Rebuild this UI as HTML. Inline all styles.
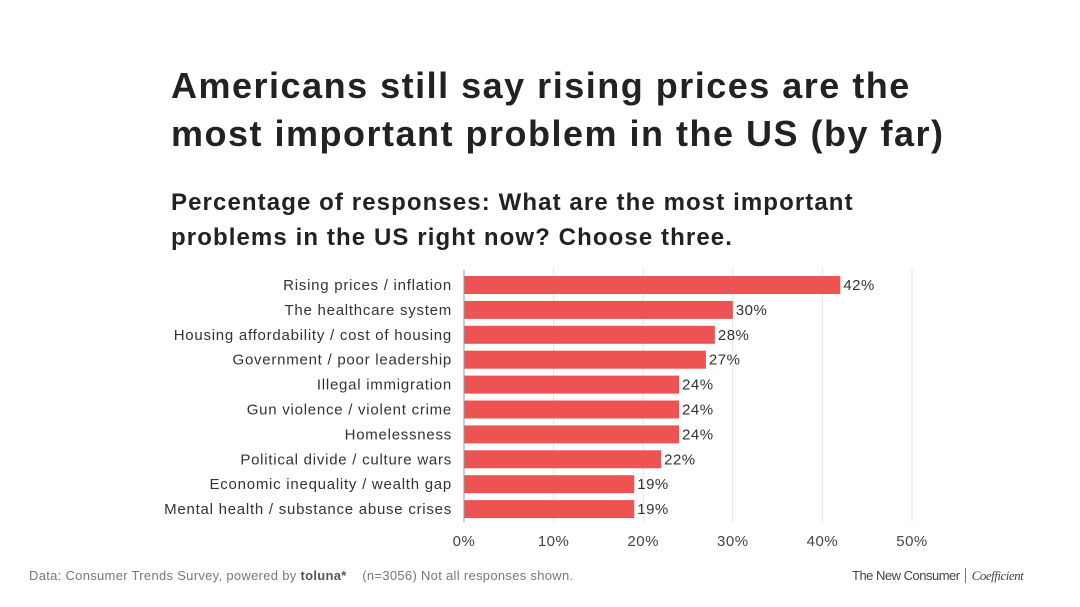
<!DOCTYPE html>
<html><head><meta charset="utf-8"><style>
body{margin:0;width:1080px;height:607px;background:#fff;font-family:"Liberation Sans",sans-serif;overflow:hidden;position:relative}
.t{position:absolute;left:171px;top:62px;font-size:36px;font-weight:bold;color:#222;line-height:48px;letter-spacing:1.5px}
.s{position:absolute;left:171px;top:185px;font-size:24px;font-weight:bold;color:#222;line-height:35px;letter-spacing:1.1px}
.f{position:absolute;top:568px;font-size:13px;color:#777;letter-spacing:0.3px}
</style></head><body>
<div class="t">Americans still say rising prices are the<br>most important problem in the US (by far)</div>
<div class="s">Percentage of responses: What are the most important<br>problems in the US right now? Choose three.</div>
<svg id="c" width="1080" height="607" style="position:absolute;left:0;top:0"></svg>
<div class="f" style="left:29px">Data: Consumer Trends Survey, powered by <b style="color:#555">toluna*</b> &nbsp;&nbsp;&nbsp;(n=3056) Not all responses shown.</div>
<div class="f" style="left:852px;color:#444;font-size:13px;letter-spacing:-0.5px">The New Consumer <span style="border-left:1px solid #777;padding-left:6px;margin-left:2px;font-family:'Liberation Serif',serif;font-style:italic">Coefficient</span></div>
<script>
const categories=["Rising prices / inflation","The healthcare system","Housing affordability / cost of housing","Government / poor leadership","Illegal immigration","Gun violence / violent crime","Homelessness","Political divide / culture wars","Economic inequality / wealth gap","Mental health / substance abuse crises"];
const values=[42,30,28,27,24,24,24,22,19,19];
const ticks=[0,10,20,30,40,50];
const svg=document.getElementById('c');const NS="http://www.w3.org/2000/svg";
const x=v=>464+v*8.96;const y=i=>276+i*24.9;
function el(t,a){const e=document.createElementNS(NS,t);for(const k in a)e.setAttribute(k,a[k]);svg.appendChild(e);return e;}
ticks.forEach(t=>{
 if(t>0){const g=el('line',{x1:x(t),x2:x(t),y1:268,y2:522,stroke:'#e4e4e4','stroke-width':1});
 
 }
 const l=el('text',{x:x(t),y:546,'text-anchor':'middle','font-size':15,fill:'#444','letter-spacing':0.5});l.textContent=t+'%';
 
 
});
categories.forEach((c,i)=>{
 const r=el('rect',{x:x(0),y:y(i),width:x(values[i])-x(0),height:18,fill:'#ec5352'});
 
 
 const l=el('text',{x:452,y:y(i)+14,'text-anchor':'end','font-size':15,fill:'#333','letter-spacing':0.75});l.textContent=c;
 
 
 const v=el('text',{x:x(values[i])+3,y:y(i)+14,'font-size':15,fill:'#333','letter-spacing':0.5});v.textContent=values[i]+'%';
 
 
});
const a=el('line',{x1:x(0),x2:x(0),y1:270,y2:522,stroke:'#999','stroke-width':1});


</script>
</body></html>
